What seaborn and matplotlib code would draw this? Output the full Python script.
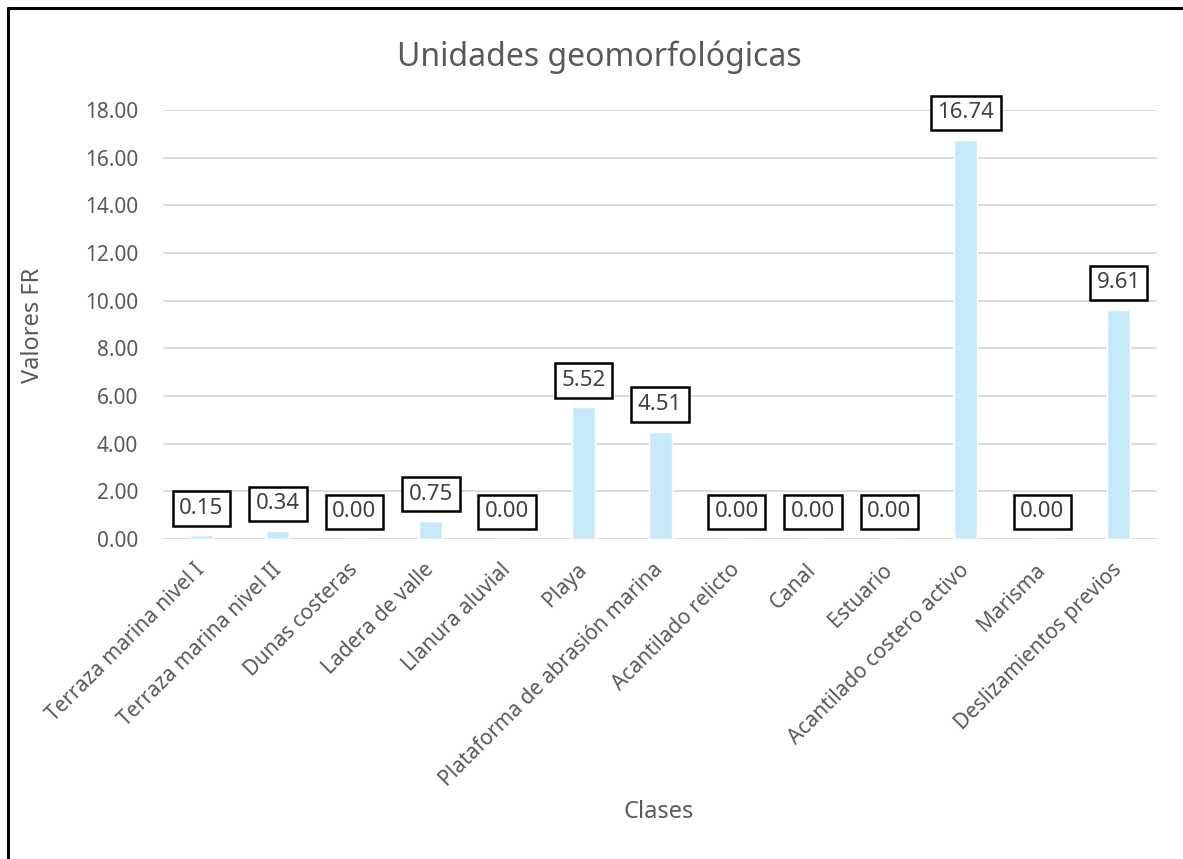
import pandas as pd
import matplotlib.pyplot as plt
import seaborn as sns
from matplotlib.lines import Line2D

# data
clases = ['Terraza marina nivel I', 'Terraza marina nivel II', 'Dunas costeras',
          'Ladera de valle', 'Llanura aluvial', 'Playa', 'Plataforma de abrasión marina',
          'Acantilado relicto', 'Canal', 'Estuario', 'Acantilado costero activo',
          'Marisma', 'Deslizamientos previos']
valores_fr = [0.15, 0.34, 0.00, 0.75, 0.00, 5.52, 4.51, 0.00, 0.00, 0.00, 16.74, 0.00, 9.61]
y_ticks = [0, 2, 4, 6, 8, 10, 12, 14, 16, 18]

df = pd.DataFrame({'Clases': clases, 'Valores FR': valores_fr})

sns.set_style('white')
plt.rcParams['font.family'] = ['Noto Sans', 'DejaVu Sans']
gris = '#595959'

fig = plt.figure(figsize=(11.83, 8.59), dpi=100)
ax = fig.add_axes([0.138, 0.3725, 0.840, 0.4995])

sns.barplot(data=df, x='Clases', y='Valores FR', color='#C6EAFA', saturation=1,
            width=0.3, ax=ax, zorder=3)

ax.set_ylim(0, 18)
ax.set_yticks(y_ticks)
ax.set_yticklabels([f'{t:.2f}' for t in y_ticks], fontsize=15, color=gris)
ax.grid(axis='y', color='#d9d9d9', linewidth=1.3, zorder=0)
ax.set_axisbelow(True)
sns.despine(ax=ax, left=True, bottom=True, top=True, right=True)
ax.tick_params(axis='y', length=0, pad=18)
ax.tick_params(axis='x', length=0, pad=20)
ax.set_xticks(range(len(clases)))
ax.set_xticklabels(clases, rotation=45, ha='right', va='center', rotation_mode='anchor',
                   fontsize=15, color=gris)

# data labels in boxes
for i, v in enumerate(valores_fr):
    ax.annotate(f'{v:.2f}', xy=(i, v), xytext=(0, 19.5), textcoords='offset points',
                ha='center', va='center', fontsize=16, color='#404040', zorder=5,
                annotation_clip=False,
                bbox=dict(boxstyle='square,pad=0.3', fc='white', ec='black', lw=1.8))

ax.set_xlabel('')
ax.set_ylabel('')
fig.text(659 / 1183, 1 - 812 / 859, 'Clases', fontsize=17, color=gris, ha='center', va='center')
fig.text(33 / 1183, 1 - 325 / 859, 'Valores FR', fontsize=17, color=gris,
         ha='center', va='center', rotation=90)
fig.text(599 / 1183, 1 - 57 / 859, 'Unidades geomorfológicas', fontsize=23, color=gris,
         ha='center', va='center')

# frame on left and top edge
fig.add_artist(Line2D([0.0068, 0.0068], [0, 0.991], color='black', lw=2.2, transform=fig.transFigure))
fig.add_artist(Line2D([0.0068, 1.0], [0.991, 0.991], color='black', lw=2.2, transform=fig.transFigure))

fig.savefig('out.png', dpi=100)
